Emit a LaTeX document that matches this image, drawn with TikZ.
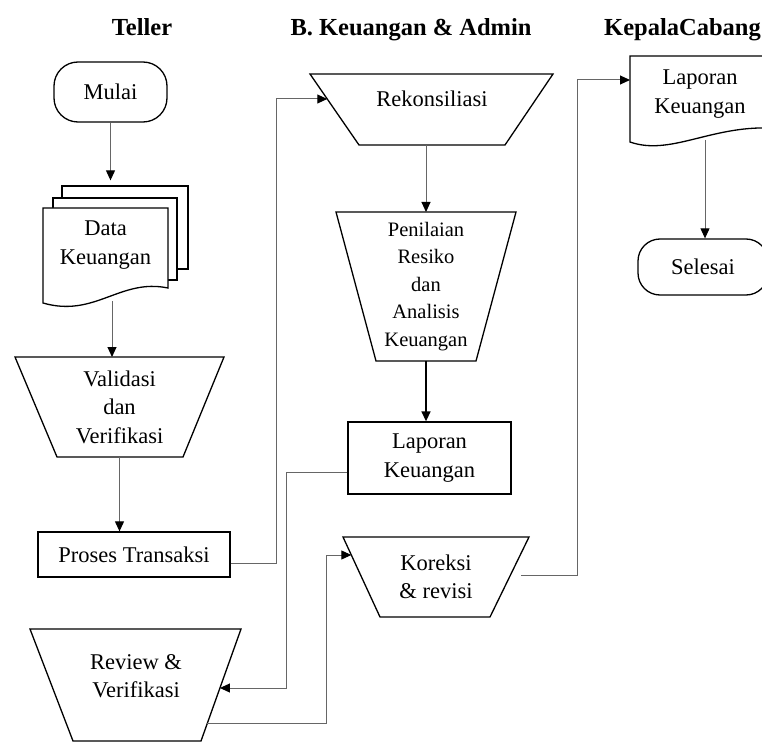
\documentclass[tikz,border=0pt]{standalone}
\usepackage{fontspec}
\setmainfont{Liberation Serif}
\usetikzlibrary{arrows.meta,calc}
\begin{document}
\begin{tikzpicture}[x=1pt,y=-1pt,
  box/.style={draw=black,line width=1.3pt,fill=white},
  outl/.style={draw=black,line width=1.3pt},
  area/.style={inner sep=0pt,outer sep=0pt},
  txt/.style={font=\fontsize{22.5}{28.5}\selectfont,align=center,inner sep=0pt},
  smalltxt/.style={font=\fontsize{20.5}{27.5}\selectfont,align=center,inner sep=0pt},
  head/.style={font=\fontsize{24.5}{28}\selectfont\bfseries,inner sep=0pt,anchor=base},
  conn/.style={draw=black!60,line width=1pt},
  arr/.style={conn,-{Triangle[length=10pt,width=9pt,color=black]}},
]
\useasboundingbox (0,0) rectangle (762,743);

% headers
\node[head] (h1) at (142,36) {Teller};
\node[head] (h2) at (411,36) {B. Keuangan \& Admin};
\node[head,anchor=base west] (h3) at (604,36) {KepalaCabang};

% Teller column
\node[box,txt,rounded corners=24pt,minimum width=113,minimum height=60] (mulai) at (110.5,92) {Mulai};

\node[box,minimum width=126,minimum height=83] (dkc) at (125,227.5) {};
\node[box,minimum width=124,minimum height=82] (dkm) at (115,239) {};
\draw[box] (43,208) -- (168,208) -- (168,288) .. controls (120,278) and (95,318) .. (43,303) -- cycle;
\node[txt] (dk) at (105.5,245) {Data\\Keuangan};
\coordinate (dkout) at (112,301);

\node[area,txt,minimum width=209,minimum height=100] (val) at (119.5,407) {Validasi\\dan\\Verifikasi};
\draw[outl] (val.north west) -- (val.north east) -- ([xshift=-41pt]val.south east) -- ([xshift=42pt]val.south west) -- cycle;

\node[box,txt,minimum width=192,minimum height=45] (pt) at (134,554.5) {Proses Transaksi};

\node[area,minimum width=211,minimum height=112] (rev) at (135.5,685) {};
\draw[outl] (rev.north west) -- (rev.north east) -- ([xshift=-40pt]rev.south east) -- ([xshift=43pt]rev.south west) -- cycle;
\node[txt] (revt) at (136,676) {Review \&\\Verifikasi};

% B. Keuangan column
\node[area,minimum width=243,minimum height=71] (rek) at (431.5,109.5) {};
\draw[outl] (rek.north west) -- (rek.north east) -- ([xshift=-48pt]rek.south east) -- ([xshift=49pt]rek.south west) -- cycle;
\node[txt] (rekt) at (432,99) {Rekonsiliasi};

\node[area,smalltxt,minimum width=180,minimum height=149] (pen) at (426,286.5) {Penilaian\\Resiko\\dan\\Analisis\\Keuangan};
\draw[outl] (pen.north west) -- (pen.north east) -- ([xshift=-40pt]pen.south east) -- ([xshift=40pt]pen.south west) -- cycle;

\node[box,txt,minimum width=163,minimum height=72] (lap) at (429.5,458) {Laporan\\Keuangan};

\node[area,txt,minimum width=186,minimum height=80] (kor) at (436,577) {Koreksi\\\& revisi};
\draw[outl] (kor.north west) -- (kor.north east) -- ([xshift=-39pt]kor.south east) -- ([xshift=37pt]kor.south west) -- cycle;

% Kepala Cabang column
\node[area,txt,minimum width=140,minimum height=76] (kd) at (700,94) {Laporan\\Keuangan};
\draw[outl] (kd.south west) -- (kd.north west) -- (kd.north east) -- (770,128) .. controls (710,126) and (670,156) .. (630,142) -- cycle;
\coordinate (kdout) at (705,140);

\node[box,txt,rounded corners=22pt,minimum width=130,minimum height=56] (sel) at (703,267) {Selesai};

% points on slanted sides
\coordinate (rekin) at ($(rek.north west)!25/71!([xshift=49pt]rek.south west)$);
\coordinate (revin) at ($(rev.north east)!59/112!([xshift=-40pt]rev.south east)$);
\coordinate (revout) at ($(rev.north east)!94/112!([xshift=-40pt]rev.south east)$);
\coordinate (korin) at ($(kor.north west)!18/80!([xshift=37pt]kor.south west)$);
\coordinate (korout) at ($(kor.north east)!38/80!([xshift=-39pt]kor.south east)$);

% connectors
\draw[arr,shorten >=5pt] (mulai.south) -- (mulai.south |- dkc.north);
\draw[arr] (dkout) -- (dkout |- val.north);
\draw[arr] (val.south) -- (val.south |- pt.north);
\draw[arr] ([yshift=-8.5pt]pt.east) -| ([xshift=-51pt]rekin) -- (rekin);
\draw[arr] (rek.south -| pen.north) -- (pen.north);
\draw[arr,draw=black,line width=1.5pt] (pen.south) -- (pen.south |- lap.north);
\draw[arr] ([yshift=-14pt]lap.west) -| ([xshift=67pt]revin) -- (revin);
\draw[arr] (revout) -| ([xshift=-25pt]korin) -- (korin);
\draw[arr,shorten <=11pt] (korout) -| ([xshift=-53pt,yshift=14pt]kd.west) -- ([yshift=14pt]kd.west);
\draw[arr] (kdout) -- (kdout |- sel.north);
\end{tikzpicture}
\end{document}
